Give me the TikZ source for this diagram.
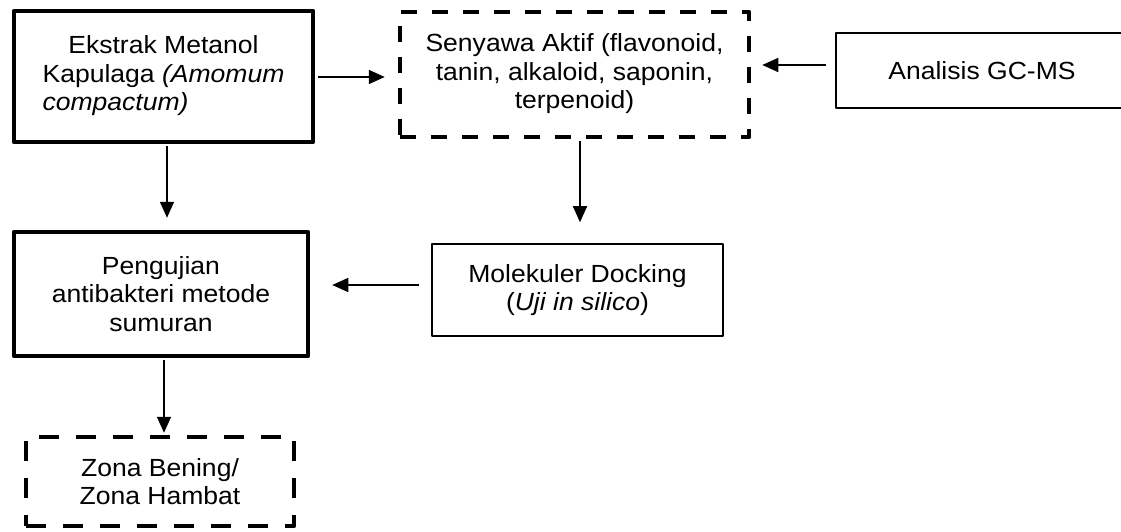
\documentclass[tikz,border=0pt]{standalone}
\usepackage{fontspec}
\newfontfamily\diagfont[FakeStretch=1.07]{Liberation Sans}
\usetikzlibrary{arrows.meta}
\begin{document}
\begin{tikzpicture}[x=1pt,y=-1pt,
  box/.style={draw=black, inner sep=0pt, align=center, line join=round,
    font=\diagfont\fontsize{24.8}{28.3}\selectfont},
  heavy/.style={box, line width=4.5pt},
  light/.style={box, line width=1.6pt},
  dashbox/.style={heavy, dash pattern=on #1},
  arr/.style={-{Triangle[length=16pt,width=14pt]}, line width=1.6pt},
]
% page area
\clip (0,0) rectangle (1121,532);
\fill[white] (0,0) rectangle (1121,532);

% boxes
\node[heavy, minimum width=299pt, minimum height=131pt] (b1) at (163.5,76.5)
  {\raisebox{6pt}{\begin{tabular}{@{}c@{}}Ekstrak Metanol\\Kapulaga \textit{(Amomum}\\
   \multicolumn{1}{@{}l@{}}{\textit{compactum)}}\end{tabular}}};
\node[dashbox={16pt off 15pt}, minimum width=349pt, minimum height=125pt] (b2) at (574.5,74.5)
  {\raisebox{-3pt}{\begin{tabular}{@{}c@{}}Senyawa Aktif (flavonoid,\\tanin, alkaloid, saponin,\\terpenoid)\end{tabular}}};
\node[light, minimum width=292pt, minimum height=75pt] (b3) at (982,70.5)
  {Analisis GC-MS};
\node[heavy, minimum width=294pt, minimum height=124pt] (b4) at (161,294)
  {Pengujian\\antibakteri metode\\sumuran};
\node[light, minimum width=291pt, minimum height=92pt] (b5) at (577.5,290)
  {Molekuler Docking\\(\textit{Uji in silico})};
\node[dashbox={20pt off 17pt}, minimum width=268pt, minimum height=89pt] (b6) at (160,481.5)
  {Zona Bening/\\Zona Hambat};

% connectors
\draw[arr, shorten <=3pt, shorten >=13pt] ([yshift=-0.5pt]b1.east) -- ([yshift=-0.5pt]b1.east -| b2.west);
\draw[arr, shorten <=9pt, shorten >=11pt] ([yshift=5.5pt]b3.west) -- ([yshift=5.5pt]b3.west -| b2.east);
\draw[arr, shorten <=2pt, shorten >=12pt] ([xshift=3.5pt]b1.south) -- ([xshift=3.5pt]b1.south |- b4.north);
\draw[arr, shorten <=2pt, shorten >=21pt] ([xshift=5.5pt]b2.south) -- ([xshift=5.5pt]b2.south |- b5.north);
\draw[arr, shorten <=12pt, shorten >=22pt] ([yshift=5pt]b5.west) -- ([yshift=5pt]b5.west -| b4.east);
\draw[arr, shorten <=2pt, shorten >=2pt] ([xshift=3pt]b4.south) -- ([xshift=3pt]b4.south |- b6.north);
\end{tikzpicture}
\end{document}
